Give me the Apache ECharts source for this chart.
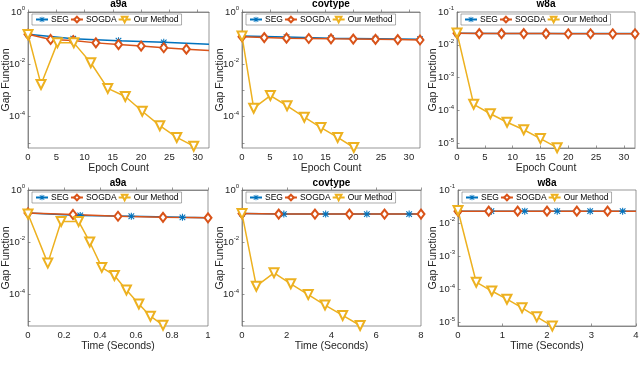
<!DOCTYPE html>
<html>
<head>
<meta charset="utf-8">
<script src="https://cdn.jsdelivr.net/npm/echarts@6/dist/echarts.min.js"></script>
<style>
  html, body { margin: 0; padding: 0; background: #fff; }
  #main { width: 640px; height: 365px; }
</style>
</head>
<body>
<div id="main"></div>
<script>
// gap function values, [x, gap]
const a9aEpochSEG = [[0, 0.14], [8, 0.095], [16, 0.08], [24, 0.069], [32, 0.059]];
const a9aEpochSOGDA = [[0, 0.14], [4, 0.089], [8, 0.081], [12, 0.066], [16, 0.057], [20, 0.05], [24, 0.043], [28, 0.038], [32, 0.034]];
const a9aEpochOurs = [[0, 0.138], [2.3, 0.0017], [5.2, 0.066], [8.1, 0.066], [11.1, 0.0115], [14.1, 0.0012], [17.2, 0.00059], [20.2, 0.00016], [23.3, 4.5e-5], [26.3, 1.6e-5], [29.3, 7.4e-6]];

const covEpochSEG = [[0, 0.12], [8, 0.11], [16, 0.1], [24, 0.095], [32, 0.091]];
const covEpochSOGDA = [[0, 0.114], [4, 0.105], [8, 0.1], [12, 0.097], [16, 0.094], [20, 0.092], [24, 0.09], [28, 0.088], [32, 0.085]];
const covEpochOurs = [[0, 0.12], [2.1, 2.1e-4], [5.1, 6.4e-4], [8.1, 2.6e-4], [11.2, 9.5e-5], [14.2, 3.8e-5], [17.2, 1.6e-5], [20.1, 6.6e-6]];

const w8aEpochSEG = [[0, 0.0225], [8, 0.022], [16, 0.022], [24, 0.022], [32, 0.022]];
const w8aEpochSOGDA = [[0, 0.0225], [4, 0.022], [8, 0.022], [12, 0.022], [16, 0.022], [20, 0.0218], [24, 0.0218], [28, 0.0217], [32, 0.0217]];
const w8aEpochOurs = [[0, 0.023], [3, 1.55e-4], [6, 8e-5], [9, 4.4e-5], [12, 2.6e-5], [15, 1.4e-5], [18, 7.4e-6]];

const a9aTimeSEG = [[0, 0.133], [0.29, 0.107], [0.574, 0.099], [0.858, 0.09], [1.0, 0.087]];
const a9aTimeSOGDA = [[0, 0.133], [0.25, 0.116], [0.5, 0.099], [0.75, 0.09], [1.0, 0.086]];
const a9aTimeOurs = [[0, 0.12], [0.11, 1.6e-3], [0.184, 0.063], [0.281, 0.063], [0.343, 0.0103], [0.41, 1.1e-3], [0.48, 5.4e-4], [0.547, 1.5e-4], [0.616, 4.4e-5], [0.68, 1.5e-5], [0.75, 6.8e-6]];

const covTimeSEG = [[0, 0.125], [1.87, 0.12], [3.74, 0.12], [5.58, 0.12], [7.47, 0.12], [8, 0.12]];
const covTimeSOGDA = [[0, 0.125], [1.64, 0.12], [3.26, 0.12], [4.8, 0.12], [6.37, 0.12], [8, 0.12]];
const covTimeOurs = [[0, 0.125], [0.64, 2.1e-4], [1.43, 6.8e-4], [2.18, 2.6e-4], [2.96, 1e-4], [3.71, 4e-5], [4.5, 1.6e-5], [5.28, 6.6e-6]];

const w8aTimeSEG = [[0, 0.023], [0.75, 0.023], [1.5, 0.023], [2.23, 0.023], [2.97, 0.023], [3.7, 0.023], [4, 0.023]];
const w8aTimeSOGDA = [[0, 0.023], [0.69, 0.023], [1.34, 0.023], [2.0, 0.023], [2.67, 0.023], [3.36, 0.023], [4, 0.023]];
const w8aTimeOurs = [[0, 0.024], [0.41, 1.66e-4], [0.76, 9e-5], [1.1, 5.1e-5], [1.44, 2.8e-5], [1.77, 1.5e-5], [2.12, 7.9e-6]];

const epochTicks = [0, 5, 10, 15, 20, 25, 30];
const legendNames = ['SEG', 'SOGDA', 'Our Method'];

const panels = [
  { title: 'a9a', xName: 'Epoch Count', grid: { left: 28, top: 12, width: 181, height: 136 }, xMax: 32, xTicks: epochTicks,
    yMin: -5.2, yMax: 0, yLabels: [0, -2, -4], nameGap: 16, seg: a9aEpochSEG, segMarks: 4, sogda: a9aEpochSOGDA, sogdaMarks: 8, ours: a9aEpochOurs },
  { title: 'covtype', xName: 'Epoch Count', grid: { left: 242, top: 12, width: 178, height: 136 }, xMax: 32, xTicks: epochTicks,
    yMin: -5.2, yMax: 0, yLabels: [0, -2, -4], nameGap: 16, seg: covEpochSEG, segMarks: 5, sogda: covEpochSOGDA, sogdaMarks: 9, ours: covEpochOurs },
  { title: 'w8a', xName: 'Epoch Count', grid: { left: 457, top: 12, width: 178, height: 136 }, xMax: 32, xTicks: epochTicks,
    yMin: -5.14, yMax: -1, yLabels: [-1, -2, -3, -4, -5], nameGap: 18, seg: w8aEpochSEG, segMarks: 5, sogda: w8aEpochSOGDA, sogdaMarks: 9, ours: w8aEpochOurs },
  { title: 'a9a', xName: 'Time (Seconds)', grid: { left: 28, top: 190, width: 180, height: 136 }, xMax: 1, xTicks: [0, 0.2, 0.4, 0.6, 0.8, 1],
    yMin: -5.2, yMax: 0, yLabels: [0, -2, -4], nameGap: 16, seg: a9aTimeSEG, segMarks: 4, sogda: a9aTimeSOGDA, sogdaMarks: 5, ours: a9aTimeOurs },
  { title: 'covtype', xName: 'Time (Seconds)', grid: { left: 242, top: 190, width: 179, height: 136 }, xMax: 8, xTicks: [0, 2, 4, 6, 8],
    yMin: -5.2, yMax: 0, yLabels: [0, -2, -4], nameGap: 16, seg: covTimeSEG, segMarks: 5, sogda: covTimeSOGDA, sogdaMarks: 6, ours: covTimeOurs },
  { title: 'w8a', xName: 'Time (Seconds)', grid: { left: 458, top: 190, width: 178, height: 136 }, xMax: 4, xTicks: [0, 1, 2, 3, 4],
    yMin: -5.1, yMax: -1, yLabels: [-1, -2, -3, -4, -5], nameGap: 19, seg: w8aTimeSEG, segMarks: 6, sogda: w8aTimeSOGDA, sogdaMarks: 6, ours: w8aTimeOurs }
];

const FONT = 'Liberation Sans';
const AXIS_COLOR = '#6b6b6b';
// matlab style asterisk
const STAR = 'path://M8.5 0H11.5V20H8.5Z M0 8.5H20V11.5H0Z M1 3.1L3.1 1L19 16.9L16.9 19Z M16.9 1L19 3.1L3.1 19L1 16.9Z';

function toPoints(pairs, marks) {
  return pairs.map(function (p, i) {
    const item = { value: [p[0], Math.log10(p[1])] };
    if (marks != null && i >= marks) item.symbol = 'none';
    return item;
  });
}

function decades(min, max) {
  const out = [];
  for (let k = Math.ceil(min); k <= max; k++) out.push(k);
  return out;
}

const option = {
  animation: false,
  backgroundColor: '#fff',
  title: [],
  legend: [],
  grid: [],
  xAxis: [],
  yAxis: [],
  series: []
};

panels.forEach(function (p, i) {
  const g = p.grid;
  option.grid.push({
    left: g.left, top: g.top, width: g.width, height: g.height,
    outerBoundsMode: 'none', containLabel: false,
    show: true, borderColor: AXIS_COLOR, borderWidth: 0.7
  });
  option.title.push({
    text: p.title, left: g.left + g.width / 2, textAlign: 'center', top: i < 3 ? -1 : 178, padding: 0,
    textStyle: { fontFamily: FONT, fontSize: 10, fontWeight: 'bold', color: '#000' }
  });
  option.legend.push({
    data: legendNames, left: g.left + 4, top: g.top + 2, padding: [1, 3],
    itemWidth: 12, itemHeight: 7, itemGap: 1,
    backgroundColor: '#fff', borderColor: '#777', borderWidth: 0.6,
    textStyle: { fontFamily: FONT, fontSize: 8.5, color: '#000', padding: [0, 0, 0, -2] }
  });
  option.xAxis.push({
    type: 'value', gridIndex: i, min: 0, max: p.xMax,
    name: p.xName, nameLocation: 'middle', nameGap: 15, nameMoveOverlap: false,
    nameTextStyle: { fontFamily: FONT, fontSize: 10.5, color: '#262626' },
    axisLine: { lineStyle: { color: AXIS_COLOR, width: 0.7 } },
    axisTick: { inside: true, length: 2.5, customValues: p.xTicks, lineStyle: { color: AXIS_COLOR, width: 0.7 } },
    axisLabel: { customValues: p.xTicks, margin: 4, fontFamily: FONT, fontSize: 9.5, color: '#262626' },
    splitLine: { show: false }
  });
  option.yAxis.push({
    type: 'value', gridIndex: i, min: p.yMin, max: p.yMax,
    name: 'Gap Function', nameLocation: 'middle', nameGap: p.nameGap, nameMoveOverlap: false,
    nameTextStyle: { fontFamily: FONT, fontSize: 10.5, color: '#262626' },
    axisLine: { lineStyle: { color: AXIS_COLOR, width: 0.7 } },
    axisTick: { inside: true, length: 2.5, customValues: decades(p.yMin, p.yMax), lineStyle: { color: AXIS_COLOR, width: 0.7 } },
    axisLabel: {
      customValues: p.yLabels, margin: 3,
      formatter: function (v) { return '{a|10}{b|' + Math.round(v) + '}'; },
      rich: {
        a: { fontFamily: FONT, fontSize: 9.5, color: '#262626' },
        b: { fontFamily: FONT, fontSize: 6, color: '#262626', padding: [0, 0, 7, 0] }
      }
    },
    splitLine: { show: false }
  });
  option.series.push({
    name: 'SEG', type: 'line', xAxisIndex: i, yAxisIndex: i,
    data: toPoints(p.seg, p.segMarks),
    symbol: STAR, symbolSize: 7,
    lineStyle: { color: '#0072BD', width: 1.5 },
    itemStyle: { color: '#0072BD' }
  });
  option.series.push({
    name: 'SOGDA', type: 'line', xAxisIndex: i, yAxisIndex: i,
    data: toPoints(p.sogda, p.sogdaMarks),
    symbol: 'emptyDiamond', symbolSize: [7, 9],
    lineStyle: { color: '#D95319', width: 1.5 },
    itemStyle: { color: '#D95319', borderWidth: 1.2 }
  });
  option.series.push({
    name: 'Our Method', type: 'line', xAxisIndex: i, yAxisIndex: i,
    data: toPoints(p.ours),
    symbol: 'emptyTriangle', symbolRotate: 180, symbolSize: 9,
    lineStyle: { color: '#EDB120', width: 1.5 },
    itemStyle: { color: '#EDB120', borderWidth: 1.2 }
  });
});

const chart = echarts.init(document.getElementById('main'), null, { renderer: 'canvas' });
chart.setOption(option);
</script>
</body>
</html>
